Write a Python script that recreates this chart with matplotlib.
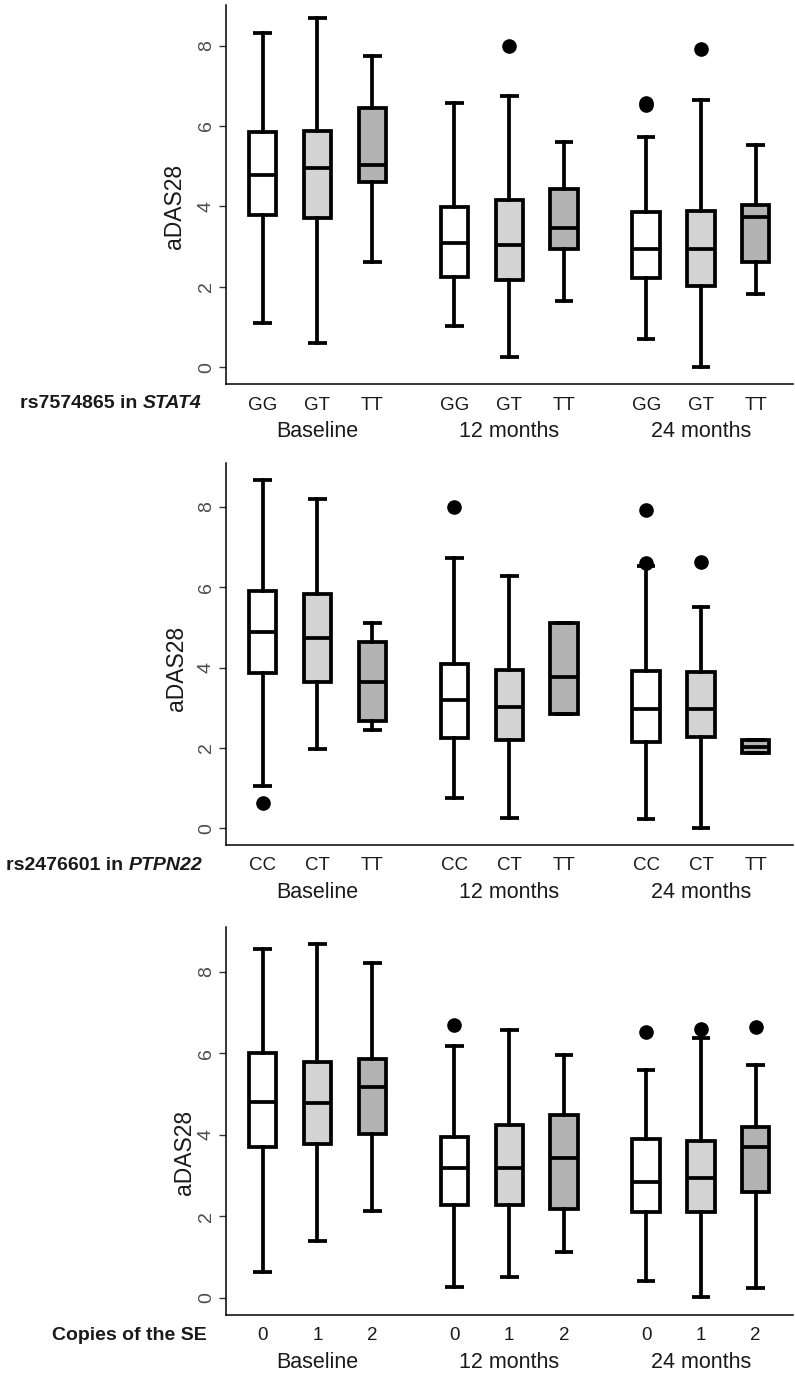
import matplotlib
matplotlib.use('Agg')
import matplotlib.pyplot as plt

plt.rcParams['font.family'] = ['Liberation Sans', 'DejaVu Sans']

timepoints = ['Baseline', '12 months', '24 months']
positions = [0, 1, 2, 3.5, 4.5, 5.5, 7, 8, 9]
fills = ['#FFFFFF', '#D3D3D3', '#B3B3B3']

# rs7574865 in STAT4
stat4_genos = ['GG', 'GT', 'TT']
stat4_lo = [1.11, 0.61, 2.62, 1.02, 0.26, 1.65, 0.69, 0.01, 1.83]
stat4_q1 = [3.78, 3.70, 4.61, 2.25, 2.17, 2.95, 2.21, 2.02, 2.62]
stat4_med = [4.78, 4.96, 5.03, 3.09, 3.05, 3.45, 2.95, 2.95, 3.74]
stat4_q3 = [5.86, 5.87, 6.44, 3.99, 4.17, 4.42, 3.85, 3.88, 4.03]
stat4_hi = [8.31, 8.68, 7.75, 6.56, 6.75, 5.59, 5.72, 6.65, 5.53]
stat4_out = [[], [], [], [], [8.0], [], [6.52, 6.58], [7.92], []]

# rs2476601 in PTPN22
ptpn_genos = ['CC', 'CT', 'TT']
ptpn_lo = [1.05, 1.98, 2.45, 0.76, 0.25, 2.84, 0.22, 0.0, 1.88]
ptpn_q1 = [3.86, 3.63, 2.67, 2.24, 2.20, 2.84, 2.15, 2.26, 1.88]
ptpn_med = [4.89, 4.73, 3.65, 3.19, 3.03, 3.77, 2.98, 2.98, 2.03]
ptpn_q3 = [5.90, 5.83, 4.64, 4.10, 3.94, 5.10, 3.91, 3.88, 2.20]
ptpn_hi = [8.66, 8.19, 5.12, 6.72, 6.28, 5.10, 6.52, 5.50, 2.20]
ptpn_out = [[0.62], [], [], [8.0], [], [], [7.92, 6.59], [6.62], []]

# copies of the shared epitope
se_genos = ['0', '1', '2']
se_lo = [0.62, 1.40, 2.13, 0.27, 0.52, 1.13, 0.41, 0.01, 0.23]
se_q1 = [3.71, 3.77, 4.03, 2.27, 2.27, 2.17, 2.10, 2.10, 2.60]
se_med = [4.81, 4.77, 5.18, 3.18, 3.18, 3.42, 2.85, 2.93, 3.71]
se_q3 = [6.00, 5.79, 5.85, 3.95, 4.24, 4.48, 3.89, 3.85, 4.20]
se_hi = [8.55, 8.68, 8.21, 6.18, 6.57, 5.96, 5.59, 6.37, 5.71]
se_out = [[], [], [], [6.69], [], [], [6.53], [6.59], [6.64]]

panels = [
    ('rs7574865 in', 'STAT4', stat4_genos, stat4_lo, stat4_q1, stat4_med, stat4_q3, stat4_hi, stat4_out),
    ('rs2476601 in', 'PTPN22', ptpn_genos, ptpn_lo, ptpn_q1, ptpn_med, ptpn_q3, ptpn_hi, ptpn_out),
    ('Copies of the SE', '', se_genos, se_lo, se_q1, se_med, se_q3, se_hi, se_out),
]

W, H = 795, 1373
fig = plt.figure(figsize=(W/100, H/100), dpi=100)

# axes boxes in pixels (top, bottom), y limits, y-label centres
ax_px = [(5, 384), (463, 845), (927, 1315)]
ylims = [(-0.42, 9.01), (-0.415, 9.09), (-0.425, 9.10)]
ylab_px = [(175, 206), (176, 668), (184, 1152)]
lw = 2.7

for i, (lab1, lab2, genos, lo, q1, med, q3, hi, out) in enumerate(panels):
    top, bot = ax_px[i]
    ax = fig.add_axes([226/W, 1-bot/H, (793-226)/W, (bot-top)/H])
    stats = []
    for k in range(len(positions)):
        stats.append(dict(whislo=lo[k], q1=q1[k], med=med[k], q3=q3[k], whishi=hi[k], fliers=out[k]))
    bp = ax.bxp(stats, positions=positions, widths=0.5, capwidths=0.34, patch_artist=True,
                boxprops=dict(edgecolor='black', linewidth=lw, joinstyle='miter'),
                medianprops=dict(color='black', linewidth=lw, solid_capstyle='butt'),
                whiskerprops=dict(color='black', linewidth=lw),
                capprops=dict(color='black', linewidth=lw, solid_capstyle='butt'),
                flierprops=dict(marker='o', markerfacecolor='black', markeredgecolor='black', markersize=9.5))
    for k, box in enumerate(bp['boxes']):
        box.set_facecolor(fills[k % 3])

    ax.set_xlim(-0.67, 9.68)
    ax.set_ylim(*ylims[i])
    ax.set_yticks([0, 2, 4, 6, 8])
    ax.set_yticklabels(['0', '2', '4', '6', '8'], rotation=90, va='center', fontsize=14, color='#4d4d4d')
    ax.tick_params(axis='y', length=5, width=1, color='#333333', pad=3)
    ax.set_xticks(positions)
    ax.set_xticklabels(genos*3, fontsize=13.5, color='#1a1a1a')
    ax.tick_params(axis='x', length=0, pad=9)
    for s in ['top', 'right']:
        ax.spines[s].set_visible(False)
    for s in ['left', 'bottom']:
        ax.spines[s].set_linewidth(1.1)
        ax.spines[s].set_color('black')

    for g, name in enumerate(timepoints):
        ax.annotate(name, xy=(positions[3*g+1], 0), xycoords=('data', 'axes fraction'),
                    xytext=(0, -34), textcoords='offset points', ha='center', va='center',
                    fontsize=15.5, color='#1a1a1a')

    fig.text(ylab_px[i][0]/W, 1-ylab_px[i][1]/H, 'aDAS28', rotation=90, ha='center', va='center',
             fontsize=16.5, color='#1a1a1a')

    yrow = 1-(bot+20)/H
    if lab2:
        t2 = fig.text(202/W, yrow, lab2, ha='right', va='center', fontsize=14,
                      fontweight='bold', fontstyle='italic', color='#1a1a1a')
        ax.annotate(lab1, xy=(0, 0.5), xycoords=t2, xytext=(-4, 0), textcoords='offset points',
                    ha='right', va='center', fontsize=14, fontweight='bold', color='#1a1a1a',
                    annotation_clip=False)
    else:
        fig.text(207/W, yrow, lab1, ha='right', va='center', fontsize=14, fontweight='bold',
                 color='#1a1a1a')

fig.savefig('out.png', dpi=100)
